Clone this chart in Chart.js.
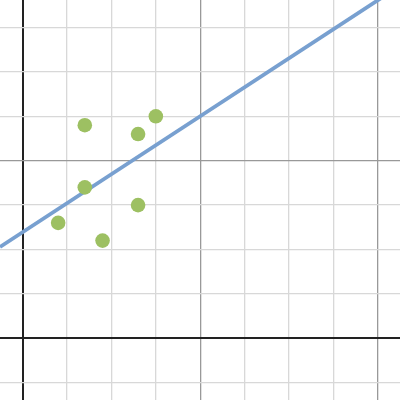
<!DOCTYPE html>
<html>
<head>
<meta charset="utf-8">
<script src="https://cdn.jsdelivr.net/npm/chart.js@4/dist/chart.umd.min.js"></script>
<style>
  html, body { margin: 0; padding: 0; background: #fff; }
  #wrap { width: 400px; height: 400px; }
</style>
</head>
<body>
<div id="wrap"><canvas id="chart" width="400" height="400"></canvas></div>
<script>
// scatter points
const pointsX = [1.4, 2.6, 3.0, 1.4, 2.6, 0.8, 1.8]
const pointsY = [4.8, 4.6, 5.0, 3.4, 3.0, 2.6, 2.2]

// fitted line y = slope * x + intercept
const lineSlope = 0.653
const lineIntercept = 2.39

// visible window
const xRange = [-0.51, 8.5]
const yRange = [-1.39, 7.62]
const majorEvery = 4

const points = pointsX.map((x, i) => ({ x: x, y: pointsY[i] }))
const fitLine = xRange.map(x => ({ x: x, y: lineSlope * x + lineIntercept }))

function gridColor(ctx) {
  const v = ctx.tick ? ctx.tick.value : null
  if (v === 0) return '#222'
  if (v % majorEvery === 0) return '#999'
  return '#d8d8d8'
}
function gridWidth(ctx) {
  const v = ctx.tick ? ctx.tick.value : null
  return v === 0 ? 2 : 1.3
}
function intTicks(axis) {
  const ticks = []
  for (let v = Math.ceil(axis.min); v <= Math.floor(axis.max); v++) ticks.push({ value: v })
  axis.ticks = ticks
}

function axisOpts(range) {
  return {
    type: 'linear',
    min: range[0],
    max: range[1],
    afterBuildTicks: intTicks,
    ticks: { display: false },
    border: { display: false },
    grid: { color: gridColor, lineWidth: gridWidth, drawTicks: false }
  }
}

new Chart(document.getElementById('chart'), {
  type: 'scatter',
  data: {
    datasets: [
      {
        data: points,
        backgroundColor: '#9dc062',
        borderWidth: 0,
        pointRadius: 7.3,
        order: 1
      },
      {
        data: fitLine,
        showLine: true,
        borderColor: '#78a0d0',
        borderWidth: 3.8,
        pointRadius: 0,
        order: 2
      }
    ]
  },
  options: {
    responsive: false,
    animation: false,
    layout: { padding: 0, autoPadding: false },
    plugins: { legend: { display: false }, tooltip: { enabled: false } },
    scales: { x: axisOpts(xRange), y: axisOpts(yRange) }
  }
})
</script>
</body>
</html>
